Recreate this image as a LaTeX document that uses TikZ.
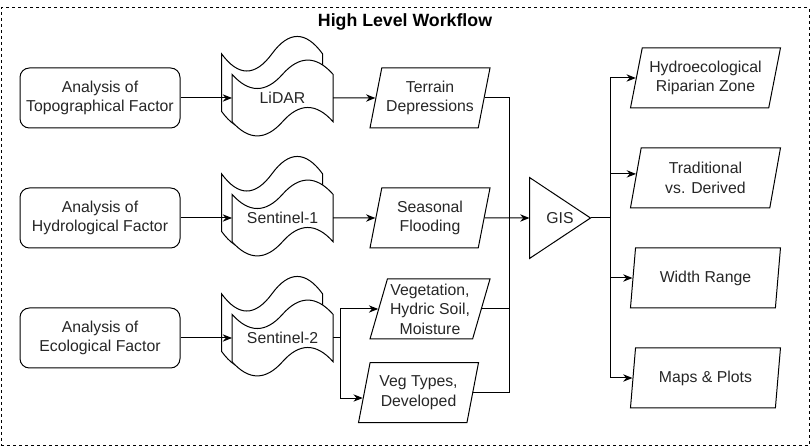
\documentclass[tikz,border=0pt]{standalone}
\usepackage{fontspec}
\setmainfont{Liberation Sans}
\usetikzlibrary{positioning,arrows.meta,shapes.geometric,calc}

% wavy outline of a tape node
\newcommand\drawtape[1]{%
  \draw[fill=white] let \p1=(#1.north west), \p2=(#1.south east),
      \n1={(\x2)-(\x1)}, \n2={0.4*((\y1)-(\y2))} in
    (\x1,\y1-0.5*\n2)
    .. controls (\x1+\n1/6,\y1-1.1*\n2) and (\x1+\n1/3,\y1-1.1*\n2) .. (\x1+\n1/2,\y1-0.5*\n2)
    .. controls (\x1+2*\n1/3,\y1+0.1*\n2) and (\x1+5*\n1/6,\y1+0.1*\n2) .. (\x2,\y1-0.5*\n2)
    -- (\x2,\y2+0.5*\n2)
    .. controls (\x1+5*\n1/6,\y2+1.1*\n2) and (\x1+2*\n1/3,\y2+1.1*\n2) .. (\x1+\n1/2,\y2+0.5*\n2)
    .. controls (\x1+\n1/3,\y2-0.1*\n2) and (\x1+\n1/6,\y2-0.1*\n2) .. (\x1,\y2+0.5*\n2)
    -- cycle;}

\tikzset{
  frame/.style={draw,dash pattern=on 2.25pt off 2.25pt,minimum width=606pt,
    minimum height=328.5pt,inner sep=0pt},
  process/.style={draw,rounded corners=7pt,minimum width=120pt,minimum height=45pt,
    align=center,text=black!85},
  data/.style={draw,trapezium,trapezium left angle=71,trapezium right angle=109,
    trapezium stretches body,minimum width=#1,minimum height=45pt,
    inner xsep=-20pt,inner ysep=0pt,align=center,text=black!85},
  data/.default=90pt,
  tapebox/.style={minimum width=75pt,minimum height=#1,inner sep=0pt,align=center,text=black!85,
    append after command={\pgfextra{\let\tapenode\tikzlastnode\drawtape{\tapenode}}}},
  amp/.style={minimum width=45pt,minimum height=60pt,inner sep=0pt,text=black!85,
    append after command={\pgfextra{\let\ampnode\tikzlastnode
      \draw (\ampnode.north west) -- (\ampnode.east) -- (\ampnode.south west) -- cycle;}}},
  arrow/.style={-{Stealth[length=7pt,width=5.5pt]}},
}

\begin{document}
\begin{tikzpicture}[x=0.75pt,y=-0.75pt,on grid,line width=0.75pt,
    node font={\fontsize{11.85pt}{14.6pt}\selectfont}]
  \useasboundingbox (0,0) rectangle (811,448);
  \node[frame] (frame) at (405,227) {};
  \node[font={\bfseries\fontsize{13.3pt}{16pt}\selectfont}] (title) at (405,22) {High Level Workflow};

  % sources
  \node[process] (topo) at (100,98) {Analysis of\\Topographical Factor};
  \node[process] (hydro) [below=90pt of topo] {Analysis of\\Hydrological Factor};
  \node[process] (eco) [below=90pt of hydro] {Analysis of\\Ecological Factor};

  % sensors
  \node[tapebox=71.25pt] (lidarback) [above right=11.6pt and 129pt of topo] {};
  \node[tapebox=58.5pt] (lidar) [right=136.9pt of topo] {LiDAR};
  \node[tapebox=71.25pt] (sentinel1back) [above right=11.6pt and 129pt of hydro] {};
  \node[tapebox=58.5pt] (sentinel1) [right=136.9pt of hydro] {Sentinel-1};
  \node[tapebox=71.25pt] (sentinel2back) [above right=11.6pt and 129pt of eco] {};
  \node[tapebox=58.5pt] (sentinel2) [right=136.9pt of eco] {Sentinel-2};

  % derived data
  \node[data] (terrain) [right=110.6pt of lidar] {Terrain\\Depressions};
  \node[data] (seasonal) [right=110.6pt of sentinel1] {Seasonal\\Flooding};
  \node[data] (vegetation) [above right=21.75pt and 110.6pt of sentinel2] {Vegetation,\\Hydric Soil,\\Moisture};
  \node[data] (vegtypes) [below right=40.9pt and 102pt of sentinel2] {Veg Types,\\Developed};

  \node[amp] (gis) [right=97.5pt of seasonal] {GIS};

  % results
  \node[data=112.5pt] (riparian) [above right=105pt and 109.1pt of gis] {Hydroecological\\Riparian Zone};
  \node[data=112.5pt] (traditional) [below=75pt of riparian] {Traditional\\vs. Derived};
  \node[data=112.5pt] (width) [below=75pt of traditional] {Width Range};
  \node[data=112.5pt] (maps) [below=75pt of width] {Maps \& Plots};

  \coordinate[right=5.6pt of sentinel2.east] (split);
  \coordinate (vegin) at ($(vegtypes.bottom left corner)!0.41!(vegtypes.top left corner)$);
  \coordinate[left=15pt of gis.west] (busin);
  \coordinate[right=15pt of gis.east] (busout);
  \coordinate (tradin) at ($(traditional.bottom left corner)!0.567!(traditional.top left corner)$);

  \path[arrow] (topo) edge (lidar)
               (hydro) edge (sentinel1)
               (eco) edge (sentinel2)
               (lidar) edge (terrain)
               (sentinel1) edge (seasonal)
               (seasonal) edge (gis);
  \draw (sentinel2) -- (split);
  \draw[arrow] (split) |- (vegetation);
  \draw[arrow] (split) |- (vegin);
  \draw (terrain) -| (busin);
  \draw (vegetation) -| (busin);
  \draw (vegtypes) -| (busin);
  \draw (gis.east) -- (busout);
  \draw[arrow] (busout) |- (riparian);
  \draw[arrow] (busout) |- (tradin);
  \draw[arrow] (busout) |- (width);
  \draw[arrow] (busout) |- (maps);
\end{tikzpicture}
\end{document}
